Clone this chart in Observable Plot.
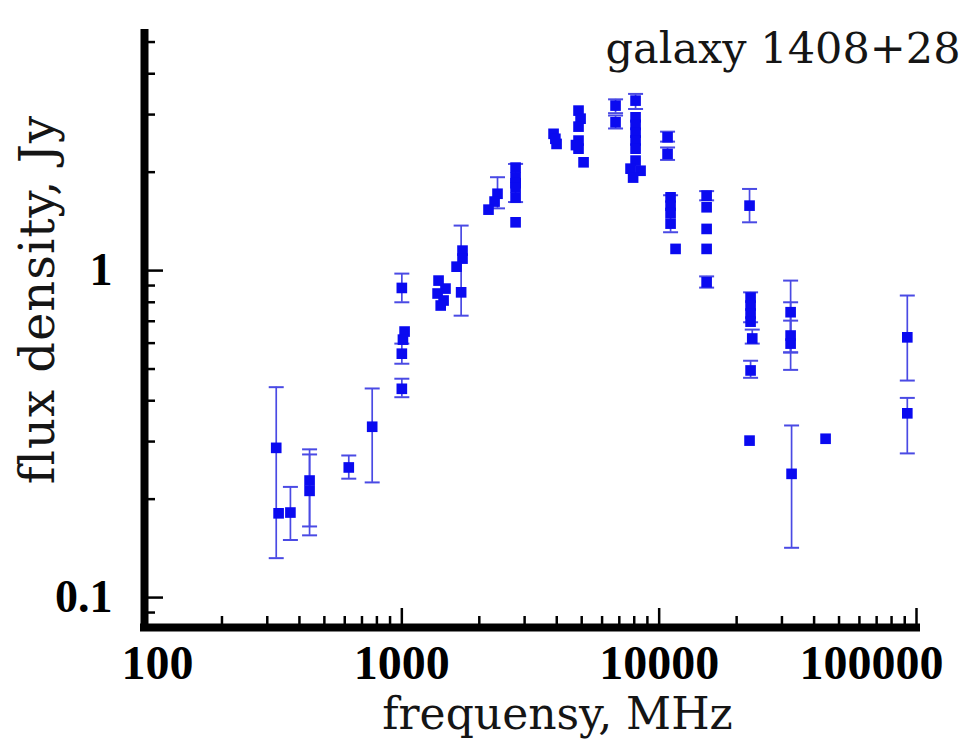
<!DOCTYPE html>
<html>
<head>
<meta charset="utf-8">
<script src="https://cdn.jsdelivr.net/npm/d3@7"></script>
<script src="https://cdn.jsdelivr.net/npm/@observablehq/plot@0.6"></script>
<style>
  html, body { margin: 0; padding: 0; background: #ffffff; }
  #chart { width: 974px; height: 743px; overflow: hidden; }
</style>
</head>
<body>
<div id="chart"></div>
<script>
// ---- labels ----
const title = "galaxy 1408+28";
const xLabel = "frequensy, MHz";
const yLabel = "flux density, Jy";

// ---- data (frequency MHz, flux density Jy, error bar low / high; null = no bar) ----
const freq = [
  325, 332, 369, 438, 438, 622, 767,
  1000, 1025, 1010, 1000, 1000,
  1389, 1478, 1377, 1453, 1416,
  1721, 1721, 1632, 1700,
  2354, 2293, 2172,
  2767, 2767, 2767, 2767, 2767, 2767,
  3887, 3993, 3950,
  4860, 4950, 4860, 4860, 4860, 4750, 5084,
  6769, 6769,
  8096, 8096, 8096, 8096, 8096, 8096, 8096, 7740, 8466, 7920,
  10780, 10780, 11075, 11075, 11075, 11075, 11580,
  15290, 15290, 15290, 15290, 15290,
  22450, 22660, 22660, 22660, 22660, 23000, 22660, 22450,
  32420, 32420, 32420, 32700,
  44330,
  92100, 92100
];
const flux = [
  0.287, 0.181, 0.182, 0.228, 0.212, 0.250, 0.333,
  0.885, 0.651, 0.615, 0.557, 0.435,
  0.932, 0.881, 0.851, 0.810, 0.782,
  1.151, 1.088, 1.028, 0.858,
  1.718, 1.626, 1.536,
  2.065, 1.925, 1.850, 1.795, 1.672, 1.405,
  2.62, 2.44, 2.53,
  3.085, 2.915, 2.756, 2.498, 2.36, 2.42, 2.144,
  3.196, 2.841,
  3.31, 2.943, 2.79, 2.64, 2.50, 2.36, 2.17, 2.05, 2.02, 1.925,
  2.557, 2.274, 1.675, 1.58, 1.50, 1.392, 1.165,
  1.695, 1.562, 1.341, 1.165, 0.921,
  1.58, 0.827, 0.782, 0.739, 0.698, 0.62, 0.495, 0.302,
  0.746, 0.633, 0.598, 0.239,
  0.306,
  0.625, 0.366
];
const errLo = [
  0.132, null, 0.150, 0.165, 0.155, 0.231, 0.225,
  0.800, null, null, 0.519, 0.410,
  null, null, null, null, null,
  null, null, null, 0.728,
  1.55, null, null,
  null, null, 1.62, null, null, null,
  null, null, null,
  null, null, null, null, null, null, null,
  3.03, 2.72,
  3.12, null, null, null, null, null, null, null, null, null,
  2.48, 2.18, null, null, 1.31, null, null,
  1.64, null, null, null, 0.887,
  1.405, null, null, 0.695, null, 0.598, 0.47, null,
  0.562, 0.497, 0.562, 0.142,
  null,
  0.461, 0.276
];
const errHi = [
  0.440, null, 0.218, 0.284, 0.274, 0.272, 0.436,
  0.979, null, null, 0.598, 0.467,
  null, null, null, null, null,
  null, null, null, 1.373,
  1.93, null, null,
  null, null, 2.12, null, null, null,
  null, null, null,
  null, null, null, null, null, null, null,
  3.34, 2.98,
  3.47, null, null, null, null, null, null, null, null, null,
  2.66, 2.38, null, null, 1.70, null, null,
  1.75, null, null, null, 0.96,
  1.777, null, null, 0.858, null, 0.66, 0.53, null,
  0.932, 0.80, 0.703, 0.336,
  null,
  0.839, 0.408
];

// ---- axes ticks ----
const xMajorTicks = [100, 1000, 10000, 100000];
const xMinorTicks = [200, 300, 400, 500, 600, 700, 800, 900,
                     2000, 3000, 4000, 5000, 6000, 7000, 8000, 9000,
                     20000, 30000, 40000, 50000, 60000, 70000, 80000, 90000];
const yMajorTicks = [0.1, 1];
const yMinorTicks = [0.09, 0.2, 0.3, 0.4, 0.5, 0.6, 0.7, 0.8, 0.9, 2, 3, 4, 5];
const xDomain = [100, 100000];
const yDomain = [0.081, 5.31];

// ---- build table ----
const data = freq.map((f, i) => ({f, s: flux[i], lo: errLo[i], hi: errHi[i]}));
const errData = data.filter(d => d.lo != null && d.hi != null);

const pointColor = "#0a0af0";
const barColor = "#4a4ae4";
const serif = "'DejaVu Serif', 'Liberation Serif', serif";
const tickFont = "'Liberation Serif', 'DejaVu Serif', serif";

const capSymbol = {
  draw(context, size) {
    const r = Math.sqrt(size / Math.PI);
    context.moveTo(-r, 0);
    context.lineTo(r, 0);
  }
};

const tickFmt = d => String(d);

const chart = Plot.plot({
  width: 974,
  height: 743,
  marginLeft: 144,
  marginRight: 58,
  marginTop: 33,
  marginBottom: 116,
  style: {fontFamily: serif, background: "#ffffff", color: "#000"},
  x: {type: "log", domain: xDomain, axis: null},
  y: {type: "log", domain: yDomain, axis: null},
  marks: [
    // error bars
    Plot.ruleX(errData, {x: "f", y1: "lo", y2: "hi", stroke: barColor, strokeWidth: 1.7}),
    Plot.dot(errData, {x: "f", y: "lo", symbol: capSymbol, r: 7.5, stroke: barColor, strokeWidth: 2, fill: "none"}),
    Plot.dot(errData, {x: "f", y: "hi", symbol: capSymbol, r: 7.5, stroke: barColor, strokeWidth: 2, fill: "none"}),
    // points
    Plot.dot(data, {x: "f", y: "s", symbol: "square", r: 6, fill: pointColor, stroke: null}),
    // axis lines
    Plot.ruleY([yDomain[0]], {stroke: "#000", strokeWidth: 8, strokeLinecap: "square"}),
    Plot.ruleX([xDomain[0]], {stroke: "#000", strokeWidth: 8, strokeLinecap: "square"}),
    // x ticks (inward)
    Plot.axisX(xMajorTicks, {anchor: "bottom", tickSize: 19, dy: -19, strokeWidth: 2.5, text: null, label: null, tickFormat: null}),
    Plot.axisX(xMinorTicks, {anchor: "bottom", tickSize: 11, dy: -11, strokeWidth: 2.5, text: null, label: null, tickFormat: null}),
    // y ticks (inward)
    Plot.axisY(yMajorTicks, {anchor: "left", tickSize: 19, dx: 19, strokeWidth: 2.5, text: null, label: null, tickFormat: null}),
    Plot.axisY(yMinorTicks, {anchor: "left", tickSize: 11, dx: 11, strokeWidth: 2.5, text: null, label: null, tickFormat: null}),
    // x tick labels
    Plot.axisX([1000, 10000], {anchor: "bottom", tickSize: 0, tickPadding: 17, fontSize: 48, fontWeight: "bold", fontFamily: tickFont, tickFormat: tickFmt, label: null}),
    Plot.axisX([100], {anchor: "bottom", tickSize: 0, tickPadding: 17, dx: 13, fontSize: 48, fontWeight: "bold", fontFamily: tickFont, tickFormat: tickFmt, label: null}),
    Plot.axisX([100000], {anchor: "bottom", tickSize: 0, tickPadding: 17, dx: -45, fontSize: 48, fontWeight: "bold", fontFamily: tickFont, tickFormat: tickFmt, label: null}),
    // y tick labels
    Plot.axisY(yMajorTicks, {anchor: "left", tickSize: 0, tickPadding: 32, fontSize: 46, fontWeight: "bold", fontFamily: tickFont, tickFormat: tickFmt, label: null}),
    // axis titles
    Plot.text([xLabel], {frameAnchor: "bottom", text: d => d, dx: 27, dy: 101, lineAnchor: "bottom", fontSize: 44, fontFamily: serif, fill: "#151515"}),
    Plot.text([yLabel], {frameAnchor: "left", text: d => d, rotate: -90, dx: -91, dy: -31, lineAnchor: "bottom", textAnchor: "middle", fontSize: 48, fontFamily: serif, fill: "#151515"}),
    // title
    Plot.text([title], {frameAnchor: "top-right", text: d => d, dx: 44, dy: 29, lineAnchor: "bottom", textAnchor: "end", fontSize: 43, fontFamily: serif, fill: "#151515"})
  ]
});
// slight letter spacing on the vertical axis title
d3.select(chart).selectAll("text").filter(function() { return this.textContent === yLabel; })
  .attr("letter-spacing", "1px");
document.getElementById("chart").appendChild(chart);
</script>
</body>
</html>
